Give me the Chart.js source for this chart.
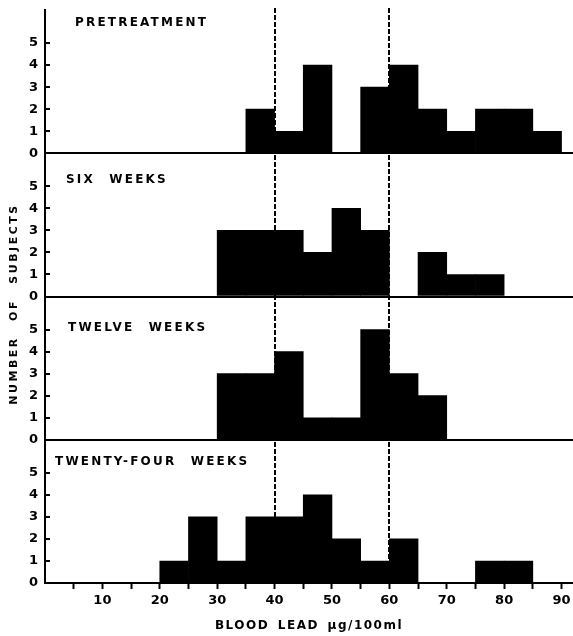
<!DOCTYPE html>
<html>
<head>
<meta charset="utf-8">
<script src="https://cdn.jsdelivr.net/npm/chart.js@4/dist/chart.umd.min.js"></script>
<style>
html,body{margin:0;padding:0;background:#fff;}
#wrap{width:573px;height:636px;position:relative;}
canvas{display:block;}
</style>
</head>
<body>
<div id="wrap"><canvas id="c" width="573" height="636"></canvas></div>
<script>
// ---- data ----
const binStarts = [0, 5, 10, 15, 20, 25, 30, 35, 40, 45, 50, 55, 60, 65, 70, 75, 80, 85];
const binWidth = 5;
const pretreatment    = [0, 0, 0, 0, 0, 0, 0, 2, 1, 4, 0, 3, 4, 2, 1, 2, 2, 1];
const sixWeeks        = [0, 0, 0, 0, 0, 0, 3, 3, 3, 2, 4, 3, 0, 2, 1, 1, 0, 0];
const twelveWeeks     = [0, 0, 0, 0, 0, 0, 3, 3, 4, 1, 1, 5, 3, 2, 0, 0, 0, 0];
const twentyFourWeeks = [0, 0, 0, 0, 1, 3, 1, 3, 3, 4, 2, 1, 2, 0, 0, 1, 1, 0];
const panelTitles = ['PRETREATMENT', 'SIX WEEKS', 'TWELVE WEEKS', 'TWENTY-FOUR WEEKS'];
const yTickValues = [0, 1, 2, 3, 4, 5];
const xTickValues = [5, 10, 15, 20, 25, 30, 35, 40, 45, 50, 55, 60, 65, 70, 75, 80, 85, 90];
const xLabelValues = [10, 20, 30, 40, 50, 60, 70, 80, 90];
const referenceLines = [40, 60];
const xTitle = 'BLOOD LEAD µg/100ml';
const yTitle = 'NUMBER OF SUBJECTS';

// ---- layout / style ----
const panelSeries = [pretreatment, sixWeeks, twelveWeeks, twentyFourWeeks];
const titleLayout = [{x: 75, dy: 13}, {x: 66, dy: 27}, {x: 68, dy: 31}, {x: 55, dy: 22}];
const FONT = "'DejaVu Sans', 'Liberation Sans', sans-serif";
Chart.defaults.font.family = FONT;
Chart.defaults.color = '#000';

const datasets = panelSeries.map((vals, i) => ({
  label: panelTitles[i],
  data: binStarts.map((s, j) => ({x: s + binWidth / 2, y: vals[j]})),
  yAxisID: 'y' + i,
  backgroundColor: '#000',
  borderWidth: 0,
  grouped: false,
  barPercentage: 1,
  categoryPercentage: 1
}));

const scales = {
  x: {
    type: 'linear', position: 'bottom', min: 0, max: 92, offset: false,
    afterBuildTicks: s => { s.ticks = xTickValues.map(v => ({value: v})); },
    afterFit: s => { s.height = 53; s.paddingLeft = 0; s.paddingRight = 0; },
    ticks: {
      autoSkip: false, maxRotation: 0, padding: 4,
      font: {size: 13, weight: 'bold'},
      callback: v => xLabelValues.includes(v) ? String(v) : ''
    },
    grid: {drawOnChartArea: false, drawTicks: true, tickLength: 6, tickWidth: 2, tickColor: '#000', offset: false},
    border: {display: true, color: '#000', width: 2}
  }
};
// stacked y scales: the last one defined is placed on top, so define bottom panel first
for (let i = panelSeries.length - 1; i >= 0; i--) {
  scales['y' + i] = {
    type: 'linear', position: 'left', stack: 'panels', stackWeight: 1,
    min: 0, max: 6.5, offset: false,
    afterBuildTicks: s => { s.ticks = yTickValues.map(v => ({value: v})); },
    afterFit: s => { s.width = 45; s.paddingTop = 0; s.paddingBottom = 0; },
    ticks: {font: {size: 13, weight: 'bold'}, padding: 12, autoSkip: false},
    grid: {
      drawOnChartArea: true, drawTicks: true, tickLength: -5, tickWidth: 2, tickColor: '#000',
      lineWidth: 2,
      color: ctx => (ctx.tick && ctx.tick.value === 0) ? '#000' : 'rgba(0,0,0,0)'
    },
    border: {display: true, color: '#000', width: 2}
  };
}

const decorations = {
  id: 'decorations',
  afterDatasetsDraw(chart) {
    const {ctx, chartArea, scales} = chart;
    ctx.save();
    ctx.strokeStyle = '#000';
    ctx.lineWidth = 2;
    ctx.setLineDash([5, 2]);
    referenceLines.forEach(v => {
      const px = Math.round(scales.x.getPixelForValue(v));
      ctx.beginPath();
      ctx.moveTo(px, chartArea.top - 2);
      ctx.lineTo(px, chartArea.bottom);
      ctx.stroke();
    });
    ctx.setLineDash([]);
    ctx.fillStyle = '#000';
    ctx.textBaseline = 'middle';
    ctx.textAlign = 'left';
    ctx.font = "bold 12px " + FONT;
    ctx.letterSpacing = '2.2px';
    ctx.wordSpacing = '8px';
    panelTitles.forEach((t, i) => {
      const s = scales['y' + i];
      ctx.fillText(t, titleLayout[i].x, s.top + titleLayout[i].dy);
    });
    // x title
    ctx.textAlign = 'center';
    ctx.letterSpacing = '1.5px';
    ctx.wordSpacing = '3px';
    ctx.fillText(xTitle, (chartArea.left + chartArea.right) / 2, 626);
    // y title
    ctx.font = "bold 11px " + FONT;
    ctx.letterSpacing = '2.5px';
    ctx.wordSpacing = '9px';
    ctx.translate(14, 304);
    ctx.rotate(-Math.PI / 2);
    ctx.fillText(yTitle, 0, 0);
    ctx.restore();
  }
};

new Chart(document.getElementById('c'), {
  type: 'bar',
  data: {datasets},
  options: {
    responsive: false,
    animation: false,
    layout: {padding: {top: 10, left: 0, right: 0, bottom: 0}},
    plugins: {legend: {display: false}, tooltip: {enabled: false}},
    scales
  },
  plugins: [decorations]
});
</script>
</body>
</html>
